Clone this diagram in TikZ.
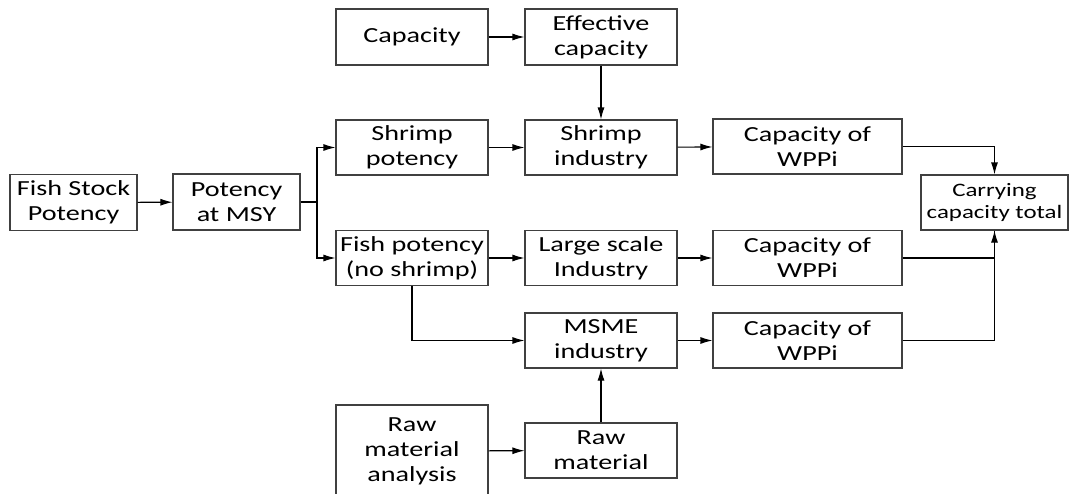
\documentclass[tikz,border=0pt]{standalone}
\usepackage{fontspec}
\setmainfont{Carlito}[FakeStretch=1.31]
\usetikzlibrary{positioning,arrows.meta}

\begin{document}
\begin{tikzpicture}[x=1pt, y=-1pt, line width=1.1pt,
    box/.style={draw=black!75, align=center, inner sep=0pt,
                minimum width=152pt, minimum height=55pt,
                font=\fontsize{21.5}{25}\selectfont},
    >={Latex[length=12pt,width=7pt]}]
  % Page size: same as the reference
  \useasboundingbox (0,0) rectangle (1069,493);
  \clip (0,0) rectangle (1069,493);

  % Left column
  \node (fishstock) [box, minimum width=127pt, minimum height=56pt] at (73.5,202.5) {Fish Stock\\Potency};
  \node (msy)       [box, minimum width=127pt, minimum height=56pt] at (236.5,202) {Potency\\at MSY};
  \coordinate (split) at (317,202);

  % Second column
  \node (capacity)  [box, minimum height=56pt] at (412,37) {Capacity};
  \node (shrimppot) [box] at (412,147.5) {Shrimp\\potency};
  \node (fishpot)   [box] at (412,258) {Fish potency\\(no shrimp)};
  \node (rawan)     [box, minimum height=92pt] at (412,451) {Raw\\material\\analysis};

  % Third column
  \node (effcap)    [box, minimum height=56pt] at (601,37) {Effective\\capacity};
  \node (shrimpind) [box] at (601,147.5) {Shrimp\\industry};
  \node (largeind)  [box] at (601,258) {Large scale\\Industry};
  \node (msme)      [box] at (601,340.5) {MSME\\industry};
  \node (rawmat)    [box] at (601,450.5) {Raw\\material};

  % Capacity of WPPi boxes
  \node (wppi1) [box, minimum width=189pt] at (807.5,146.5) {Capacity of\\WPPi};
  \node (wppi2) [box, minimum width=189pt] at (807.5,258) {Capacity of\\WPPi};
  \node (wppi3) [box, minimum width=189pt] at (807.5,340.5) {Capacity of\\WPPi};

  % Total
  \node (carrying) [box, minimum width=147pt, font=\fontsize{19}{21.5}\selectfont] at (994.5,202.5) {Carrying\\capacity total};

  % Connectors
  \draw[->] (fishstock) -- (msy);
  \draw (msy) -- (split);
  \draw[->] (split) |- (shrimppot);
  \draw[->] (split) |- (fishpot);
  \draw[->] (capacity) -- (effcap);
  \draw[->] (effcap) -- (shrimpind);
  \draw[->] (shrimppot) -- (shrimpind);
  \draw[->] (shrimpind) -- (wppi1);
  \draw[->] (fishpot) -- (largeind);
  \draw[->] (largeind) -- (wppi2);
  \draw[->] (fishpot) |- (msme);
  \draw[->] (msme) -- (wppi3);
  \draw[->] (rawan) -- (rawmat);
  \draw[->] (rawmat) -- (msme);
  \draw[->] (wppi1) -| (carrying);
  \draw (wppi2) -| (carrying);
  \draw[->] (wppi3) -| (carrying);
\end{tikzpicture}
\end{document}
